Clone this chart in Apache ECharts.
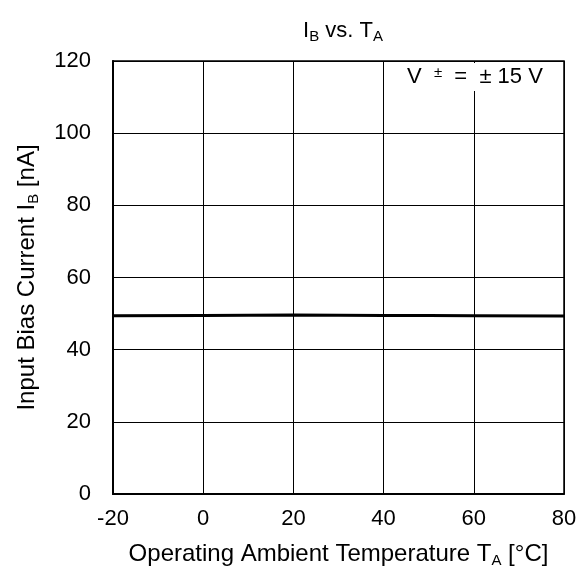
<!DOCTYPE html>
<html><head><meta charset="utf-8">
<script src="https://cdn.jsdelivr.net/npm/echarts@6/dist/echarts.min.js"></script>
<style>html,body{margin:0;padding:0;background:#fff}#c{width:585px;height:575px}</style>
</head><body><div id="c"></div>
<script>
const temps = [-20, 0, 20, 40, 60, 80];
const biasCurrent = [49.4, 49.5, 49.6, 49.5, 49.4, 49.3];
const xTicks = [-20, 0, 20, 40, 60, 80];
const yTicks = [0, 20, 40, 60, 80, 100, 120];
const font = 'Liberation Sans, Arial, sans-serif';
const nameRich = {
  n: { fontFamily: font, fontSize: 24, color: '#000' },
  s: { fontFamily: font, fontSize: 15, color: '#000', padding: [12, 0, 0, 0] }
};
const chart = echarts.init(document.getElementById('c'));
chart.setOption({
  animation: false,
  backgroundColor: '#fff',
  title: {
    text: '{n|I}{s|B}{n| vs. T}{s|A}',
    left: 338, top: 13, textAlign: 'center',
    textStyle: { rich: {
      n: { fontFamily: font, fontSize: 22, color: '#000', fontWeight: 'normal' },
      s: { fontFamily: font, fontSize: 15, color: '#000', fontWeight: 'normal', padding: [11, 0, 0, 0] }
    } }
  },
  grid: { left: 113, right: 21, top: 61, bottom: 81, show: true, borderColor: '#000', borderWidth: 1.5 },
  xAxis: {
    type: 'value', min: -20, max: 80, interval: 20,
    name: '{n|Operating Ambient Temperature T}{s|A}{n| [°C]}',
    nameLocation: 'middle', nameGap: 47,
    nameTextStyle: { rich: nameRich },
    axisLine: { show: true, onZero: false, lineStyle: { color: '#000', width: 2 } },
    axisTick: { show: false },
    axisLabel: { fontFamily: font, fontSize: 22, color: '#000', margin: 14,
      formatter: v => xTicks.includes(v) ? String(v) : '' },
    splitLine: { show: true, lineStyle: { color: '#000', width: 1 } }
  },
  yAxis: {
    type: 'value', min: 0, max: 120, interval: 20,
    name: '{n|Input Bias Current I}{s|B}{n| [nA]}',
    nameLocation: 'middle', nameGap: 72, nameRotate: 90,
    nameTextStyle: { rich: nameRich },
    axisLine: { show: true, onZero: false, lineStyle: { color: '#000', width: 2 } },
    axisTick: { show: false },
    axisLabel: { fontFamily: font, fontSize: 22, color: '#000', margin: 22,
      formatter: v => yTicks.includes(v) ? String(v) : '' },
    splitLine: { show: true, lineStyle: { color: '#000', width: 1 } }
  },
  graphic: [{
    type: 'text', left: 403, top: 63, z: 100,
    style: {
      text: '{n|V  }{s|±}{n|  =  ± 15 V}',
      backgroundColor: '#fff', padding: [2, 6, 2, 4],
      rich: {
        n: { fontFamily: font, fontSize: 22, fill: '#000', color: '#000' },
        s: { fontFamily: font, fontSize: 15, fill: '#000', color: '#000', padding: [0, 0, 9, 0] }
      }
    }
  }],
  series: [{
    type: 'line', data: temps.map((t, i) => [t, biasCurrent[i]]),
    smooth: true, showSymbol: false, symbol: 'none',
    lineStyle: { color: '#000', width: 3 }
  }]
});
</script></body></html>
